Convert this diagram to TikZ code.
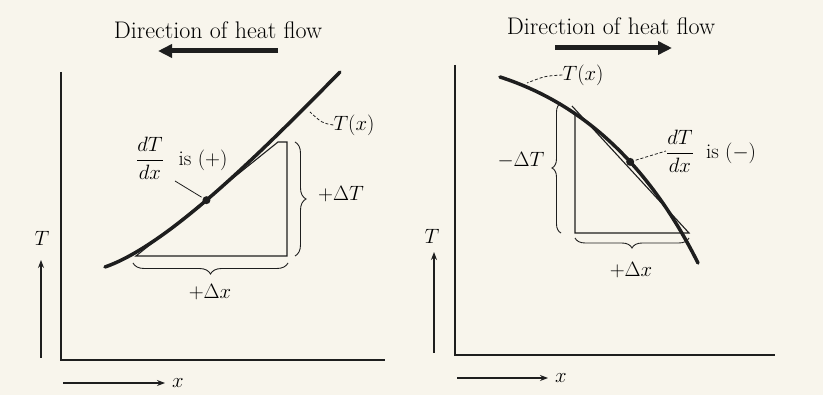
\documentclass[tikz,border=0pt]{standalone}
\usepackage{amsmath}
\usetikzlibrary{arrows.meta,decorations.pathreplacing}
\definecolor{bg}{RGB}{248,245,236}
\definecolor{ink}{RGB}{30,30,30}
\begin{document}
\begin{tikzpicture}[x=1pt,y=-1pt,
  axis/.style={ink,line width=1.3pt},
  curve/.style={ink,line width=3.5pt,line cap=round},
  thinline/.style={ink,line width=1.1pt},
  leader/.style={ink,line width=0.8pt,dash pattern=on 3pt off 2pt},
  bracestyle/.style={ink,line width=0.9pt,decorate,decoration={brace,amplitude=#1}},
  heat/.style={ink,line width=5pt,-{Triangle[length=14pt,width=13pt]}},
  stub/.style={ink,line width=1.3pt,-{Stealth[length=8pt,width=6pt]}},
  lab/.style={inner sep=0pt,font=\fontsize{21}{24}\selectfont},
  titletext/.style={inner sep=0pt,font=\fontsize{24}{28}\selectfont},
  dotnode/.style={circle,fill=ink,inner sep=0pt,minimum size=8pt}]
\fill[bg] (0,0) rectangle (823,395);
\useasboundingbox (0,0) rectangle (823,395);

% ---------------- left panel ----------------
\coordinate (L0) at (61,72);
\coordinate (Lo) at (61,360);
\coordinate (Lx) at (385,360);
\draw[axis] (L0) -- (Lo) -- (Lx);

\node[titletext] (Ltitle) at (218,30) {Direction of heat flow};
\coordinate (Lh1) at (278,51);
\coordinate (Lh2) at (158,51);
\draw[heat] (Lh1) -- (Lh2);

\coordinate (Lt1) at (136,256);
\coordinate (Lt2) at (287,256);
\coordinate (Lt3) at (287,142);
\coordinate (Lt4) at (278,142);
\draw[thinline] (Lt1) -- (Lt4) -- (Lt3) -- (Lt2) -- cycle;

\coordinate (La) at (105,267);
\coordinate (Lb) at (340,72);
\draw[curve] (La) .. controls (165,246) and (250,163.8) .. (Lb)
  node[dotnode,pos=0.48] (LD) {};

\coordinate (LbT1) at (295,142);
\coordinate (LbT2) at (295,256);
\draw[bracestyle=11pt] (LbT1) -- (LbT2);
\coordinate (Lbx1) at (288,263);
\coordinate (Lbx2) at (133,263);
\draw[bracestyle=11pt] (Lbx1) -- (Lbx2);

\node[lab] (LdT) at (341,194) {$+\Delta T$};
\node[lab] (Ldx) at (210,292) {$+\Delta x$};
\node[lab] (Lfrac) at (150,158) {$\dfrac{dT}{dx}$};
\node[lab] (Lis) at (203,160) {is $(+)$};
\coordinate (Ll) at (175,181);
\draw[ink,line width=0.8pt] (Ll) -- (LD);

\node[lab] (LT) at (354,125) {$T(x)$};
\coordinate (Lc) at (310,112);
\draw[leader] (LT.west) .. controls (322,123) .. (Lc);

\coordinate (Ls1) at (41,358);
\coordinate (Ls2) at (41,260);
\draw[stub] (Ls1) -- (Ls2);
\node[lab] (LTy) at (42,238) {$T$};
\coordinate (Ls3) at (63,383);
\coordinate (Ls4) at (165,383);
\draw[stub] (Ls3) -- (Ls4);
\node[lab] (Lxl) at (178,383) {$x$};

% ---------------- right panel ----------------
\coordinate (R0) at (455,65);
\coordinate (Ro) at (455,355);
\coordinate (Rx) at (775,355);
\draw[axis] (R0) -- (Ro) -- (Rx);

\node[titletext] (Rtitle) at (611,26) {Direction of heat flow};
\coordinate (Rh1) at (555,48);
\coordinate (Rh2) at (672,48);
\draw[heat] (Rh1) -- (Rh2);

\coordinate (Rt1) at (575,233);
\coordinate (Rt2) at (689,233);
\coordinate (Rt3) at (575,112);
\coordinate (Rt4) at (572,106);
\draw[thinline] (Rt4) -- (Rt2) -- (Rt1) -- (Rt3);

\coordinate (Ra) at (500,77);
\coordinate (Rb) at (698,263);
\draw[curve] (Ra) .. controls (590,106) and (653,173) .. (Rb)
  node[dotnode,pos=0.575] (RD) {};

\coordinate (RbT1) at (561,233);
\coordinate (RbT2) at (561,103);
\draw[bracestyle=9pt] (RbT1) -- (RbT2);
\coordinate (Rbx1) at (689,238);
\coordinate (Rbx2) at (575,238);
\draw[bracestyle=10pt] (Rbx1) -- (Rbx2);

\node[lab] (RdT) at (521,160) {$-\Delta T$};
\node[lab] (Rdx) at (631,270) {$+\Delta x$};
\node[lab] (Rfrac) at (680,151) {$\dfrac{dT}{dx}$};
\node[lab] (Ris) at (731,153) {is $(-)$};
\draw[leader] (RD) -- (Rfrac.west);

\node[lab] (RT) at (583,75) {$T(x)$};
\coordinate (Rc) at (527,83);
\draw[leader] (RT.west) .. controls (545,76) .. (Rc);

\coordinate (Rs1) at (434,353);
\coordinate (Rs2) at (434,252);
\draw[stub] (Rs1) -- (Rs2);
\node[lab] (RTy) at (432,236) {$T$};
\coordinate (Rs3) at (457,378);
\coordinate (Rs4) at (548,378);
\draw[stub] (Rs3) -- (Rs4);
\node[lab] (Rxl) at (561,378) {$x$};
\end{tikzpicture}
\end{document}
